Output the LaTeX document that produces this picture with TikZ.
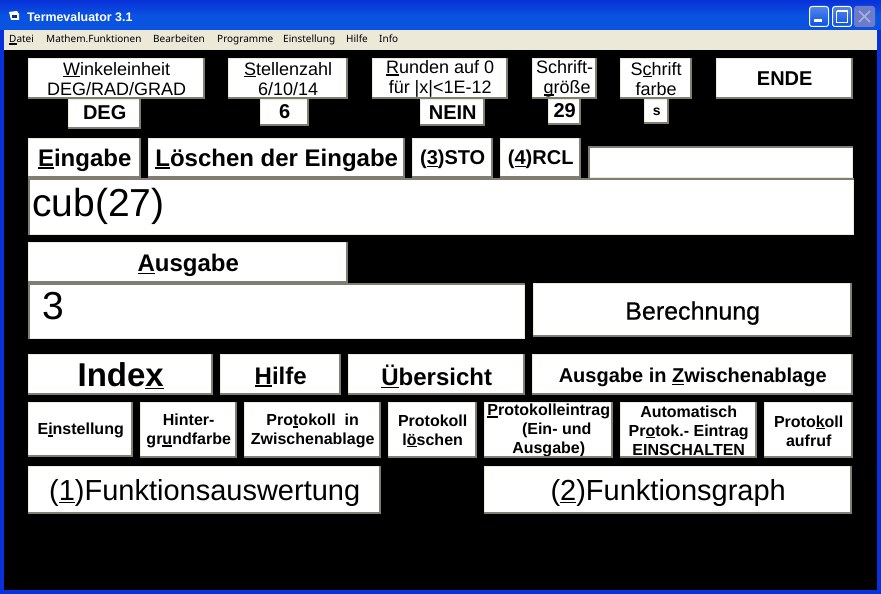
\documentclass[tikz,border=0pt]{standalone}
\usepackage{fontspec}
\usepackage{tikz}
\usepackage{xcolor}
\setmainfont{Liberation Sans}
\newfontfamily\xpfont{Noto Sans}
\newfontfamily\medfont[FakeBold=0.6]{Liberation Sans}
\definecolor{xp_blue}{HTML}{0A52E0}
\definecolor{xp_edge}{HTML}{0831D9}
\definecolor{menu_bar}{HTML}{ECE9D8}
\definecolor{btn_shadow}{HTML}{807E72}
\definecolor{cap_close}{HTML}{6C7CC8}
\newcommand{\ukey}[1]{\leavevmode\setbox0\hbox{#1}\rlap{\rule[-2.2pt]{\wd0}{1.3pt}}\box0}
\newcommand{\pad}[1]{\rule{0pt}{#1pt}}
\newcommand{\padd}[1]{\rule[-#1pt]{0pt}{#1pt}}
\newcommand{\bevelup}[1]{%
  \draw[menu_bar,line width=1pt] ([yshift=-0.5pt]#1.north east) -- ([shift={(0.5pt,-0.5pt)}]#1.north west) -- ([xshift=0.5pt]#1.south west);
  \draw[btn_shadow,line width=2pt] ([xshift=-1pt]#1.north east) -- ([shift={(-1pt,1pt)}]#1.south east) -- ([yshift=1pt]#1.south west);}
\newcommand{\bevelin}[1]{%
  \draw[menu_bar,line width=1.5pt] ([xshift=-0.75pt]#1.north east) -- ([shift={(-0.75pt,0.75pt)}]#1.south east) -- ([yshift=0.75pt]#1.south west);
  \draw[btn_shadow,line width=1.5pt] ([yshift=-0.75pt]#1.north east) -- ([shift={(0.75pt,-0.75pt)}]#1.north west) -- ([xshift=0.75pt]#1.south west);}
\tikzset{
  keybtn/.style={fill=white,text=black,anchor=north west,inner sep=0pt,align=center},
  fieldbox/.style={keybtn,align=left,inner xsep=4pt},
  plainsmall/.style={font=\fontsize{18}{20}\selectfont},
  boldsmall/.style={font=\fontsize{16}{19}\selectfont\bfseries},
  boldmid/.style={font=\fontsize{20}{23}\selectfont\bfseries},
  boldbig/.style={font=\fontsize{24}{27}\selectfont\bfseries},
  plainbig/.style={font=\fontsize{29}{34}\selectfont},
  entry/.style={font=\fontsize{39}{44}\selectfont},
  menuitem/.style={anchor=west,inner sep=0pt,text height=8pt,text depth=2pt,font=\xpfont\fontsize{10}{12}\selectfont},
  capbtn/.style={draw=white,line width=1pt,rounded corners=2.5pt,top color=#1!70!white,bottom color=#1},
}
\begin{document}
\begin{tikzpicture}[x=1pt,y=-1pt]
        \useasboundingbox (0,0) rectangle (881,594);
        % Fenster
        \fill[xp_edge] (0,0) rectangle (881,594);
        \shade[top color=xp_edge,bottom color=xp_blue,middle color=xp_blue] (0,0) rectangle (881,30);
        \fill[menu_bar] (4,30) rectangle (877,50);
        \fill[black] (4,50) rectangle (877,590);
        % Titelleiste
        \fill[white] (9,12) -- (17,11) -- (19,14) -- (19,20) -- (11,20) -- cycle;
        \fill[xp_blue!60!black] (12,15) rectangle (17,18);
        \node[anchor=west,inner sep=0pt,text=white,font=\fontsize{12.4}{14}\selectfont\bfseries] (titel) at (27,17) {Termevaluator 3.1};
        \draw[capbtn=xp_blue] (809.5,6.5) rectangle (828.5,26.5);
        \fill[white] (814,19) rectangle (822,22);
        \draw[capbtn=xp_blue] (832.5,6.5) rectangle (851.5,26.5);
        \draw[white,line width=1pt] (836.5,11.5) rectangle (847.5,22.5);
        \draw[white,line width=2pt] (836.5,11.5) -- (847.5,11.5);
        \fill[cap_close,rounded corners=2.5pt] (854,6) rectangle (875,27);
        \draw[cap_close!60!white,line width=1.5pt] (859,11) -- (870,22) (870,11) -- (859,22);
        % Menue
        \node[menuitem] (datei) at (9,39.5) {\ukey{D}atei};
        \node[menuitem] (mathem) at (46,39.5) {Mathem.Funktionen};
        \node[menuitem] (bearb) at (153,39.5) {Bearbeiten};
        \node[menuitem] (progr) at (217,39.5) {Programme};
        \node[menuitem] (einst) at (283,39.5) {Einstellung};
        \node[menuitem] (hilfem) at (346,39.5) {Hilfe};
        \node[menuitem] (info) at (379,39.5) {Info};
        % Erste Reihe
        \node[keybtn,plainsmall,minimum width=177,minimum height=41] (winkel) at (28,58) {\pad{13}\ukey{W}inkeleinheit\\DEG/RAD/GRAD};
        \node[keybtn,boldmid,minimum width=73,minimum height=30] (deg) at (68,99) {\padd{3}DEG};
        \node[keybtn,plainsmall,minimum width=120,minimum height=41] (stellen) at (228,58) {\pad{13}\ukey{S}tellenzahl\\6/10/14};
        \node[keybtn,boldmid,minimum width=49,minimum height=27] (sechs) at (260,99) {\padd{3}6};
        \node[keybtn,plainsmall,minimum width=136,minimum height=41] (runden) at (372,58) {\pad{13}\ukey{R}unden auf 0\\für |x|<1E-12};
        \node[keybtn,boldmid,minimum width=65,minimum height=27] (nein) at (420,99) {NEIN};
        \node[keybtn,plainsmall,minimum width=65,minimum height=41] (groesse) at (532,58) {\pad{13}Schrift-\\\hspace*{5pt}\ukey{g}röße};
        \node[keybtn,boldmid,minimum width=33,minimum height=26] (neunzwanzig) at (548,99) {\padd{3}29};
        \node[keybtn,plainsmall,minimum width=72,minimum height=41] (farbe) at (620,58) {\pad{13}S\ukey{c}hrift\\farbe};
        \node[keybtn,font=\fontsize{14}{16}\selectfont\bfseries,minimum width=25,minimum height=25] (ess) at (644,99) {s};
        \node[keybtn,boldmid,minimum width=137,minimum height=41] (ende) at (716,58) {ENDE};
        % Eingabe
        \node[keybtn,boldbig,minimum width=113,minimum height=40] (eingabe) at (28,138) {\pad{21.5}\ukey{E}ingabe};
        \node[keybtn,boldbig,minimum width=257,minimum height=40] (loeschen) at (148,138) {\pad{21.5}\ukey{L}öschen der Eingabe};
        \node[keybtn,boldmid,minimum width=81,minimum height=40] (sto) at (412,138) {\pad{17}(\ukey{3})STO};
        \node[keybtn,boldmid,minimum width=81,minimum height=40] (rcl) at (500,138) {\pad{17}(\ukey{4})RCL};
        \node[fieldbox,minimum width=265,minimum height=32] (speicher) at (588,146) {};
        \node[fieldbox,entry,text width=818,minimum height=57] (termfeld) at (28,178) {cub(27)};
        % Ausgabe
        \node[keybtn,boldbig,minimum width=320,minimum height=41] (ausgabe) at (28,242) {\pad{23.5}\ukey{A}usgabe};
        \node[fieldbox,entry,inner xsep=14pt,text width=469,minimum height=56,text height=36pt,text depth=20pt] (wertfeld) at (28,283) {3};
        \node[keybtn,font=\fontsize{25}{29}\selectfont\medfont,minimum width=319,minimum height=54] (rechnen) at (533,283) {\pad{24}Berechnung};
        % Index-Reihe
        \node[keybtn,font=\fontsize{33}{38}\selectfont\bfseries,minimum width=185,minimum height=41] (index) at (28,354) {\pad{26}Inde\ukey{x}};
        \node[keybtn,boldbig,minimum width=121,minimum height=41] (hilfe) at (220,354) {\pad{21.5}\ukey{H}ilfe};
        \node[keybtn,boldbig,minimum width=177,minimum height=41] (uebersicht) at (348,354) {\pad{24}\ukey{Ü}bersicht};
        \node[keybtn,boldmid,minimum width=321,minimum height=41] (zwischen) at (532,354) {\pad{20.5}Ausgabe in \ukey{Z}wischenablage};
        % Protokoll-Reihe
        \node[keybtn,boldsmall,minimum width=105,minimum height=55] (einstellung) at (28,402) {\pad{13}E\ukey{i}nstellung};
        \node[keybtn,boldsmall,minimum width=97,minimum height=56] (hinter) at (140,402) {\pad{13}Hinter-\\gr\ukey{u}ndfarbe};
        \node[keybtn,boldsmall,minimum width=137,minimum height=56] (protzw) at (244,402) {\pad{13}Pro\ukey{t}okoll~ in\\Zwischenablage};
        \node[keybtn,boldsmall,minimum width=89,minimum height=56] (protloe) at (388,402) {\pad{13}Protokoll\\l\ukey{ö}schen};
        \node[keybtn,boldsmall,minimum width=129,minimum height=56] (protein) at (484,402) {\pad{12}\ukey{P}rotokolleintrag\\\hspace*{16pt}(Ein- und\\Ausgabe)};
        \node[keybtn,boldsmall,minimum width=137,minimum height=56] (protauto) at (620,402) {\pad{12}Automatisch\\Pr\ukey{o}tok.- Eintrag\\EINSCHALTEN};
        \node[keybtn,boldsmall,minimum width=89,minimum height=56] (protauf) at (764,402) {\pad{13}Proto\ukey{k}oll\\aufruf};
        % Funktionen
        \node[keybtn,plainbig,minimum width=353,minimum height=48] (fausw) at (28,466) {\pad{27}(\ukey{1})Funktionsauswertung};
        \node[keybtn,plainbig,minimum width=368,minimum height=48] (fgraph) at (484,466) {\pad{27}(\ukey{2})Funktionsgraph};
        % Kanten
        \foreach \n in {winkel,deg,stellen,sechs,runden,nein,groesse,neunzwanzig,farbe,ess,ende,eingabe,loeschen,sto,rcl,ausgabe,rechnen,index,hilfe,uebersicht,zwischen,einstellung,hinter,protzw,protloe,protein,protauto,protauf,fausw,fgraph}
          {\bevelup{\n}}
        \foreach \n in {speicher,termfeld,wertfeld}
          {\bevelin{\n}}
\end{tikzpicture}
\end{document}
